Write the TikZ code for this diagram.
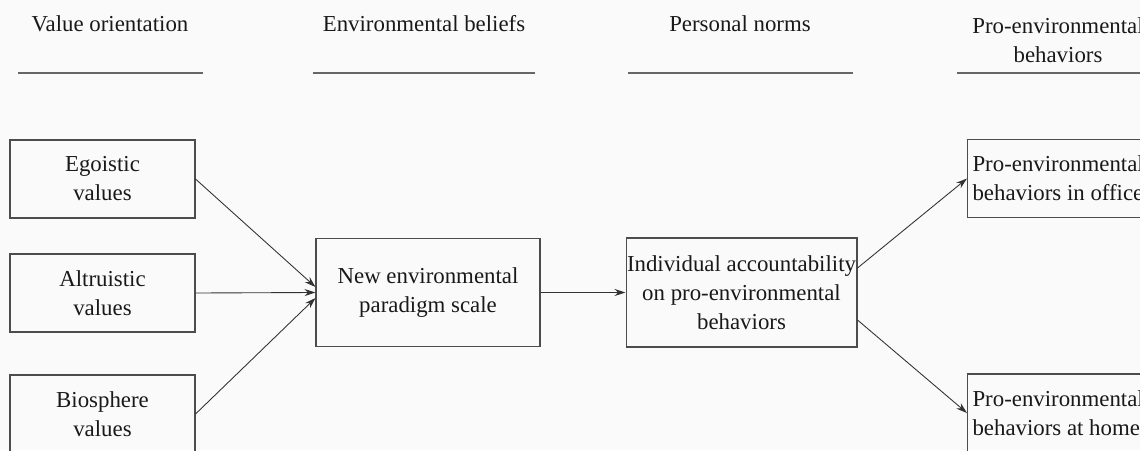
\documentclass[tikz,border=0pt]{standalone}
\usepackage{fontspec}
\setmainfont{Liberation Serif}
\usetikzlibrary{arrows.meta}
\begin{document}
\begin{tikzpicture}[x=0.02cm, y=-0.02cm,
  box/.style={draw=black!70, line width=.6pt, text=black!90, align=center,
    font=\fontsize{13}{16.5}\selectfont, inner sep=0pt},
  head/.style={text=black!90, align=center, font=\fontsize{13}{16.5}\selectfont},
  rule/.style={black!60, line width=.6pt},
  link/.style={-{Stealth[length=2.2mm, width=1.4mm]}, black!80, line width=.5pt}]
\fill[black!2] (0,0) rectangle (1140,450);
\clip (0,0) rectangle (1140,450);

% column headings
\node[head] (hvo) at (110,24) {Value orientation};
\node[head] (heb) at (424,24) {Environmental beliefs};
\node[head] (hpn) at (740,24) {Personal norms};
\node[head] (hpb) at (1058,40) {Pro-environmental\\behaviors};
\draw[rule] (18,73) -- (203,73);
\draw[rule] (313,73) -- (535,73);
\draw[rule] (628,73) -- (853,73);
\draw[rule] (957,73) -- (1160,73);

% boxes
\node[box, minimum width=3.7cm, minimum height=1.56cm] (ego) at (102.5,179) {Egoistic\\values};
\node[box, minimum width=3.7cm, minimum height=1.56cm] (alt) at (102.5,293) {Altruistic\\values};
\node[box, minimum width=3.7cm, minimum height=1.56cm] (bio) at (102.5,414) {Biosphere\\values};
\node[box, minimum width=4.48cm, minimum height=2.16cm] (nep) at (428,292.5) {New environmental\\paradigm scale};
\node[box, minimum width=4.62cm, minimum height=2.18cm] (ind) at (741.5,292.5) {Individual accountability\\on pro-environmental\\behaviors};
\node[box, anchor=west, align=flush left, text width=3.6cm, inner xsep=0.1cm, minimum height=1.56cm] (off) at (967,178.5) {Pro-environmental\\behaviors in office};
\node[box, anchor=west, align=flush left, text width=3.6cm, inner xsep=0.1cm, minimum height=1.56cm] (home) at (967,413) {Pro-environmental\\behaviors at home};

% links
\draw[link] (ego.east) -- ([yshift=0.11cm]nep.west);
\draw[link] (alt.east) -- (nep.west);
\draw[link] (bio.east) -- ([yshift=-0.11cm]nep.west);
\draw[link] (nep.east) -- (ind.west);
\draw[link] ([yshift=0.49cm]ind.east) -- (off.west);
\draw[link] ([yshift=-0.55cm]ind.east) -- (home.west);
\end{tikzpicture}
\end{document}
